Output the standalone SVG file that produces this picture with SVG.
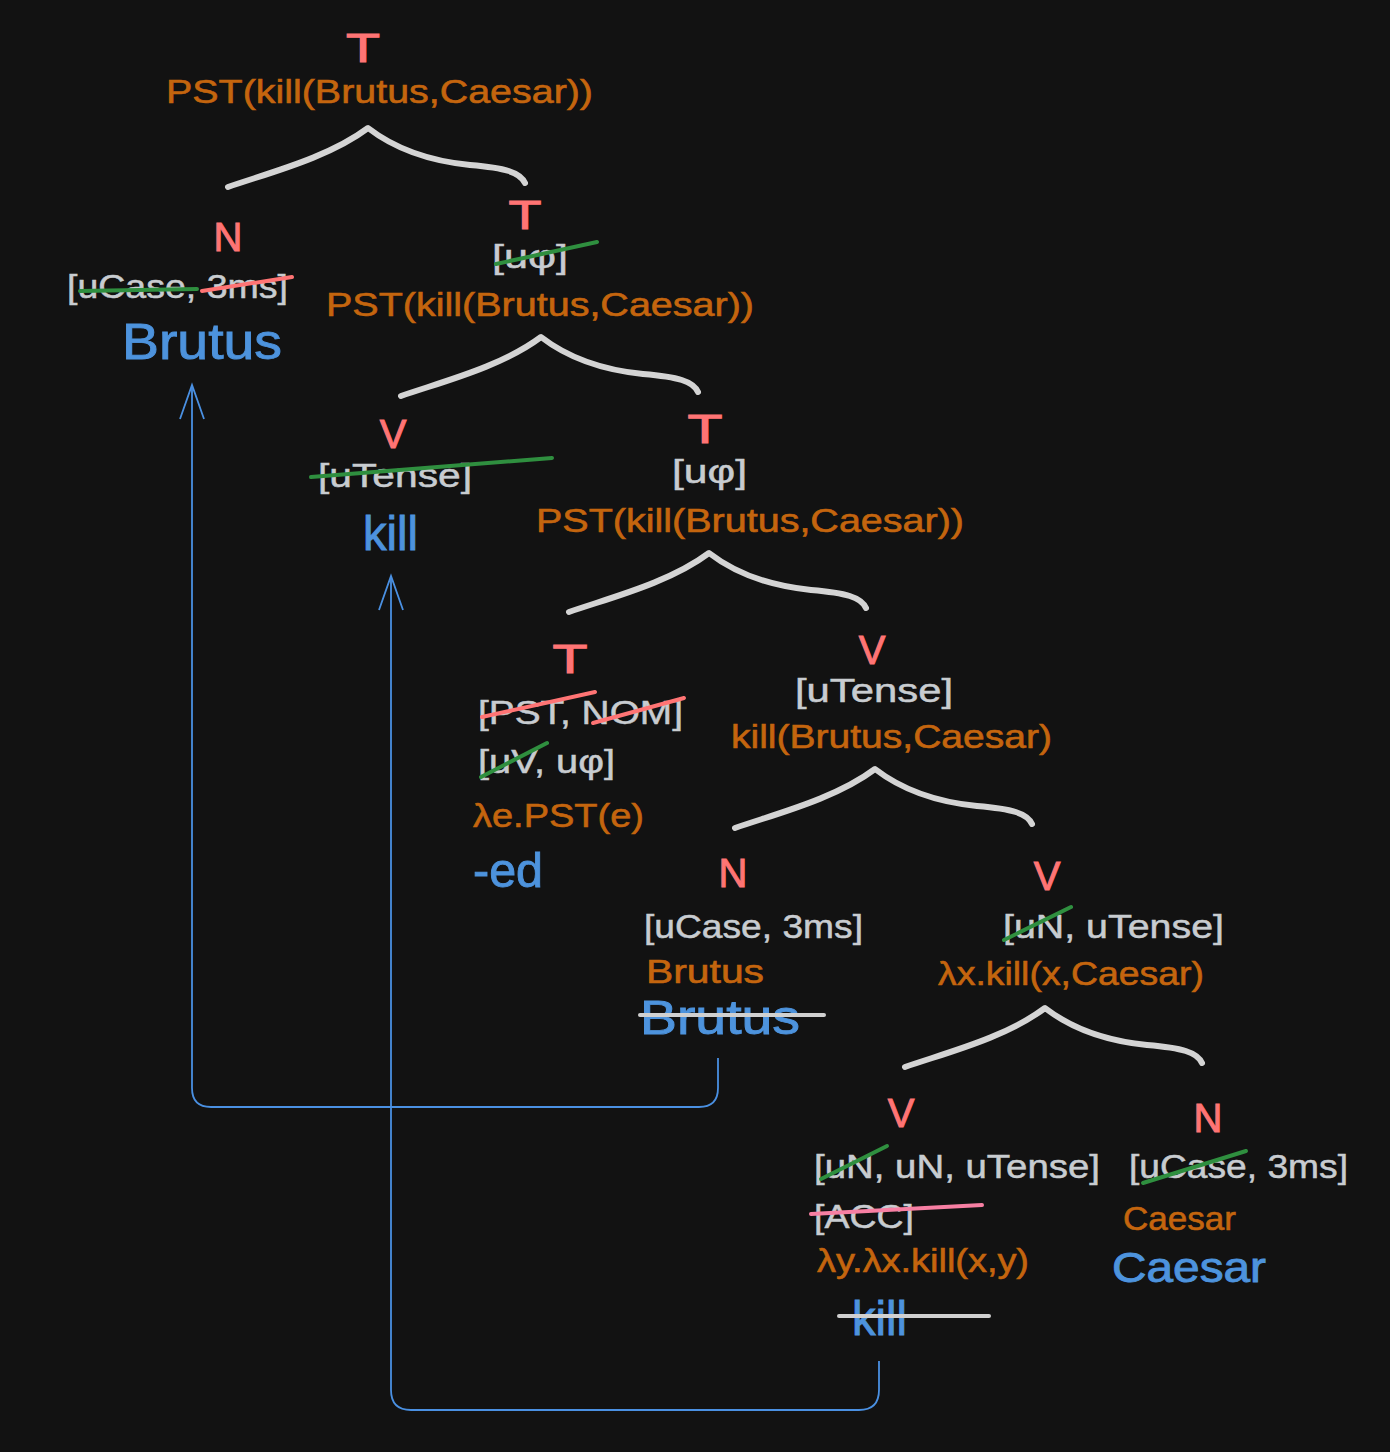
<svg xmlns="http://www.w3.org/2000/svg" width="1390" height="1452" viewBox="0 0 1390 1452">
<style>
text{font-family:"Liberation Sans","Noto Sans",sans-serif}
.lbl{fill:#ff7474;stroke:#ff7474;stroke-width:1;font-size:40px;text-anchor:middle}
.feat{fill:#c8ccd0;stroke:#c8ccd0;stroke-width:0.5;font-size:33px}
.sem{fill:#c4650e;stroke:#c4650e;stroke-width:0.6;font-size:34px}
.lex{fill:#4d93dd;stroke:#4d93dd;stroke-width:0.9;font-size:48px}
.st{stroke-width:4;stroke-linecap:round;fill:none}
.g{stroke:#2f8f3f}.r{stroke:#ff7474}.p{stroke:#f77fa3}.w{stroke:#d0d0d0}
.brace{fill:none;stroke:#d4d4d4;stroke-width:6;stroke-linecap:round;stroke-linejoin:round}
.mv{fill:none;stroke:#4a90e2;stroke-width:1.8}
</style>
<defs>
<path id="br" d="M-140,59 C-100,45 -40,30 0,0 C22,17 52,32 102,37 C137,40 152,44 157,55"/>
<marker id="ah" markerUnits="userSpaceOnUse" markerWidth="44" markerHeight="32" viewBox="-38 -16 44 32" refX="0" refY="0" orient="auto">
<path d="M-34,-12 L0,0 L-34,12" fill="none" stroke="#4a90e2" stroke-width="1.8"/>
</marker>
</defs>
<rect width="1390" height="1452" fill="#121212"/>

<g id="connectors">
<use href="#br" class="brace" transform="translate(368,128)"/>
<use href="#br" class="brace" transform="translate(541,337)"/>
<use href="#br" class="brace" transform="translate(709,553)"/>
<use href="#br" class="brace" transform="translate(875,769)"/>
<use href="#br" class="brace" transform="translate(1045,1008)"/>
<path class="mv" d="M718,1058 L718,1088 Q718,1107 699,1107 L211,1107 Q192,1107 192,1088 L192,385" marker-end="url(#ah)"/>
<path class="mv" d="M879,1361 L879,1390 Q879,1410 859,1410 L411,1410 Q391,1410 391,1390 L391,576" marker-end="url(#ah)"/>
</g>

<g id="node-T-root">
<text class="lbl" x="363" y="62" textLength="34" lengthAdjust="spacingAndGlyphs">T</text>
<text class="sem" x="166" y="103" textLength="427" lengthAdjust="spacingAndGlyphs">PST(kill(Brutus,Caesar))</text>
</g>

<g id="node-N-Brutus-top">
<text class="lbl" x="228" y="251">N</text>
<text class="feat" x="67" y="298" textLength="221" lengthAdjust="spacingAndGlyphs">[uCase, 3ms]</text>
<line class="st g" x1="80" y1="291" x2="197" y2="289"/>
<line class="st r" x1="202" y1="291" x2="292" y2="277"/>
<text class="lex" x="122" y="359" textLength="160" lengthAdjust="spacingAndGlyphs" style="font-size:50px">Brutus</text>
</g>

<g id="node-T-2">
<text class="lbl" x="525" y="229" textLength="33" lengthAdjust="spacingAndGlyphs">T</text>
<text class="feat" x="492" y="268" textLength="76" lengthAdjust="spacingAndGlyphs">[uφ]</text>
<line class="st g" x1="496" y1="264" x2="597" y2="242"/>
<text class="sem" x="326" y="316" textLength="428" lengthAdjust="spacingAndGlyphs">PST(kill(Brutus,Caesar))</text>
</g>

<g id="node-V-kill-top">
<text class="lbl" x="393" y="448">V</text>
<text class="feat" x="318" y="487" textLength="154" lengthAdjust="spacingAndGlyphs">[uTense]</text>
<line class="st g" x1="311" y1="477" x2="552" y2="458"/>
<text class="lex" x="363" y="550" textLength="55" lengthAdjust="spacingAndGlyphs">kill</text>
</g>

<g id="node-T-3">
<text class="lbl" x="705" y="443" textLength="35" lengthAdjust="spacingAndGlyphs">T</text>
<text class="feat" x="672" y="483" textLength="75" lengthAdjust="spacingAndGlyphs">[uφ]</text>
<text class="sem" x="536" y="532" textLength="428" lengthAdjust="spacingAndGlyphs">PST(kill(Brutus,Caesar))</text>
</g>

<g id="node-T-ed">
<text class="lbl" x="570" y="673" textLength="35" lengthAdjust="spacingAndGlyphs">T</text>
<text class="feat" x="478" y="724" textLength="205" lengthAdjust="spacingAndGlyphs">[PST, NOM]</text>
<line class="st r" x1="482" y1="717" x2="595" y2="692"/>
<line class="st r" x1="593" y1="723" x2="684" y2="698"/>
<text class="feat" x="478" y="773" textLength="137" lengthAdjust="spacingAndGlyphs">[uV, uφ]</text>
<line class="st g" x1="481" y1="777" x2="547" y2="743"/>
<text class="sem" x="473" y="827" textLength="171" lengthAdjust="spacingAndGlyphs">λe.PST(e)</text>
<text class="lex" x="473" y="887" textLength="70" lengthAdjust="spacingAndGlyphs">-ed</text>
</g>

<g id="node-V-2">
<text class="lbl" x="872" y="664">V</text>
<text class="feat" x="795" y="702" textLength="158" lengthAdjust="spacingAndGlyphs">[uTense]</text>
<text class="sem" x="731" y="748" textLength="321" lengthAdjust="spacingAndGlyphs">kill(Brutus,Caesar)</text>
</g>

<g id="node-N-Brutus-low">
<text class="lbl" x="733" y="887">N</text>
<text class="feat" x="644" y="938" textLength="219" lengthAdjust="spacingAndGlyphs">[uCase, 3ms]</text>
<text class="sem" x="646" y="983" textLength="118" lengthAdjust="spacingAndGlyphs">Brutus</text>
<text class="lex" x="640" y="1034" textLength="160" lengthAdjust="spacingAndGlyphs">Brutus</text>
<line class="st w" x1="640" y1="1015" x2="824" y2="1015"/>
</g>

<g id="node-V-3">
<text class="lbl" x="1047" y="890">V</text>
<text class="feat" x="1003" y="938" textLength="221" lengthAdjust="spacingAndGlyphs">[uN, uTense]</text>
<line class="st g" x1="1004" y1="940" x2="1071" y2="907"/>
<text class="sem" x="938" y="985" textLength="266" lengthAdjust="spacingAndGlyphs">λx.kill(x,Caesar)</text>
</g>

<g id="node-V-kill-low">
<text class="lbl" x="901" y="1127">V</text>
<text class="feat" x="814" y="1178" textLength="286" lengthAdjust="spacingAndGlyphs">[uN, uN, uTense]</text>
<line class="st g" x1="821" y1="1179" x2="887" y2="1146"/>
<text class="feat" x="814" y="1228" textLength="100" lengthAdjust="spacingAndGlyphs">[ACC]</text>
<line class="st p" x1="811" y1="1214" x2="982" y2="1205"/>
<text class="sem" x="817" y="1272" textLength="212" lengthAdjust="spacingAndGlyphs">λy.λx.kill(x,y)</text>
<text class="lex" x="852" y="1335" textLength="55" lengthAdjust="spacingAndGlyphs">kill</text>
<line class="st w" x1="839" y1="1316" x2="989" y2="1316"/>
</g>

<g id="node-N-Caesar">
<text class="lbl" x="1208" y="1132">N</text>
<text class="feat" x="1129" y="1178" textLength="219" lengthAdjust="spacingAndGlyphs">[uCase, 3ms]</text>
<line class="st g" x1="1143" y1="1183" x2="1246" y2="1151"/>
<text class="sem" x="1123" y="1230" textLength="113" lengthAdjust="spacingAndGlyphs">Caesar</text>
<text class="lex" x="1112" y="1282" textLength="154" lengthAdjust="spacingAndGlyphs" style="font-size:42px">Caesar</text>
</g>
</svg>
